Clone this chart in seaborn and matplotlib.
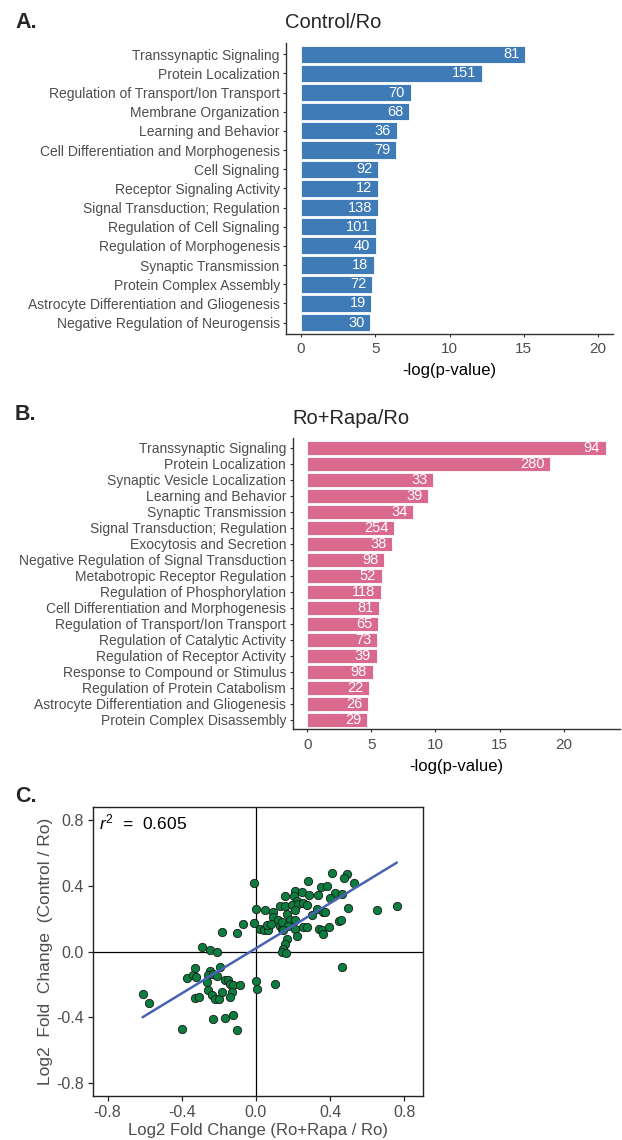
import numpy as np
import pandas as pd
import matplotlib
matplotlib.use("Agg")
import matplotlib.pyplot as plt
import seaborn as sns

# ---------------- data ----------------
termsA = ["Transsynaptic Signaling", "Protein Localization",
          "Regulation of Transport/Ion Transport", "Membrane Organization",
          "Learning and Behavior", "Cell Differentiation and Morphogenesis",
          "Cell Signaling", "Receptor Signaling Activity",
          "Signal Transduction; Regulation", "Regulation of Cell Signaling",
          "Regulation of Morphogenesis", "Synaptic Transmission",
          "Protein Complex Assembly", "Astrocyte Differentiation and Gliogenesis",
          "Negative Regulation of Neurogensis"]
valsA = [15.1, 12.2, 7.38, 7.25, 6.45, 6.4, 5.21, 5.2, 5.17, 5.08, 5.05, 4.92, 4.79, 4.74, 4.66]
countsA = [81, 151, 70, 68, 36, 79, 92, 12, 138, 101, 40, 18, 72, 19, 30]

termsB = ["Transsynaptic Signaling", "Protein Localization",
          "Synaptic Vesicle Localization", "Learning and Behavior",
          "Synaptic Transmission", "Signal Transduction; Regulation",
          "Exocytosis and Secretion", "Negative Regulation of Signal Transduction",
          "Metabotropic Receptor Regulation", "Regulation of Phosphorylation",
          "Cell Differentiation and Morphogenesis", "Regulation of Transport/Ion Transport",
          "Regulation of Catalytic Activity", "Regulation of Receptor Activity",
          "Response to Compound or Stimulus", "Regulation of Protein Catabolism",
          "Astrocyte Differentiation and Gliogenesis", "Protein Complex Disassembly"]
valsB = [23.28, 18.97, 9.81, 9.44, 8.24, 6.79, 6.6, 6.02, 5.8, 5.71, 5.58, 5.55,
         5.43, 5.4, 5.09, 4.81, 4.72, 4.66]
countsB = [94, 280, 33, 39, 34, 254, 38, 98, 52, 118, 81, 65, 73, 39, 98, 22, 26, 29]

# scatter: x = Log2FC (Ro+Rapa/Ro), y = Log2FC (Control/Ro)
sc_x = [-0.011, -0.002, -0.011, 0.049, 0.093, 0.090, 0.120, 0.022, 0.043, 0.067,
        0.061, 0.079, 0.129, 0.139, 0.408, 0.489, 0.476, 0.529, 0.282, 0.349,
        0.385, 0.156, 0.210, 0.246, 0.205, 0.219, 0.286, 0.333, 0.426, 0.399,
        0.466, 0.129, 0.156, 0.193, 0.228, 0.255, 0.273, 0.210, 0.165, 0.327,
        0.360, 0.372, 0.498, 0.651, 0.759, 0.300, 0.183, 0.210, 0.139, 0.174,
        0.147, 0.210, 0.252, 0.273, 0.341, 0.354, 0.360, 0.395, 0.449, 0.458,
        0.219, 0.165, 0.156, 0.147, 0.139, 0.160, 0.461, 0.101, -0.002, 0.006,
        -0.293, -0.248, -0.212, -0.183, -0.104, -0.068, -0.611, -0.575, -0.401, -0.374,
        -0.342, -0.329, -0.324, -0.248, -0.257, -0.263, -0.234, -0.209, -0.194, -0.257,
        -0.239, -0.221, -0.198, -0.182, -0.167, -0.149, -0.140, -0.122, -0.131, -0.140,
        -0.086, -0.234, -0.167, -0.126, -0.104, -0.329, -0.306]
sc_y = [0.416, 0.257, 0.176, 0.251, 0.242, 0.209, 0.189, 0.138, 0.128, 0.132,
        0.162, 0.168, 0.158, 0.138, 0.479, 0.473, 0.449, 0.416, 0.428, 0.391,
        0.396, 0.335, 0.367, 0.361, 0.341, 0.310, 0.347, 0.347, 0.355, 0.324,
        0.351, 0.280, 0.276, 0.286, 0.290, 0.294, 0.286, 0.250, 0.229, 0.260,
        0.239, 0.239, 0.264, 0.254, 0.280, 0.223, 0.189, 0.193, 0.178, 0.158,
        0.128, 0.138, 0.152, 0.152, 0.138, 0.128, 0.104, 0.148, 0.184, 0.189,
        0.097, 0.077, 0.047, 0.016, -0.005, -0.012, -0.095, -0.196, -0.182, -0.229,
        0.030, 0.012, -0.004, 0.118, 0.114, 0.168, -0.258, -0.313, -0.475, -0.160,
        -0.146, -0.099, -0.156, -0.116, -0.146, -0.183, -0.136, -0.150, -0.095, -0.237,
        -0.264, -0.288, -0.288, -0.248, -0.172, -0.172, -0.197, -0.203, -0.248, -0.278,
        -0.207, -0.410, -0.404, -0.385, -0.481, -0.284, -0.278]
r2_text = "0.605"

xticksA = [0, 5, 10, 15, 20]
xticksB = [0, 5, 10, 15, 20]
sc_ticks = [-0.8, -0.4, 0.0, 0.4, 0.8]

# ---------------- style ----------------
sns.set_theme(style="white")
plt.rcParams["font.family"] = ["Liberation Sans", "DejaVu Sans"]
plt.rcParams["mathtext.fontset"] = "custom"
plt.rcParams["mathtext.it"] = "Liberation Sans:italic"
plt.rcParams["mathtext.rm"] = "Liberation Sans"

W, H = 622, 1140
fig = plt.figure(figsize=(W / 100, H / 100), dpi=100)

def px_axes(l, t, r, b):
    return fig.add_axes([l / W, 1 - b / H, (r - l) / W, (b - t) / H])

GREY_TXT = "#4d4d4d"
SPINE = "#333333"
BLUE = "#3e7bb7"
PINK = "#d96a8e"


def bar_panel(ax, terms, vals, counts, color, xlim, xticks):
    df = pd.DataFrame({"term": terms, "val": vals})
    sns.barplot(data=df, x="val", y="term", order=terms, color=color,
                width=0.9, edgecolor="white", linewidth=0.6,
                saturation=1, ax=ax)
    for i, (v, c) in enumerate(zip(vals, counts)):
        ax.annotate(str(c), xy=(v, i), xytext=(-4, 0), textcoords="offset points",
                    ha="right", va="center", color="white", fontsize=10.5)
    n = len(terms)
    ax.set_ylim(n - 1 + 0.6, -0.6)
    ax.set_xlim(*xlim)
    ax.set_xticks(xticks)
    ax.set_ylabel("")
    ax.set_xlabel("-log(p-value)", fontsize=12, color="black", labelpad=5)
    for s in ["top", "right"]:
        ax.spines[s].set_visible(False)
    for s in ["left", "bottom"]:
        ax.spines[s].set_color(SPINE)
        ax.spines[s].set_linewidth(1.0)
    ax.tick_params(axis="y", length=2.5, width=0.8, color=SPINE, labelcolor=GREY_TXT,
                   labelsize=10, pad=2, left=True)
    ax.tick_params(axis="x", length=2.5, width=0.8, color=SPINE, labelcolor=GREY_TXT,
                   labelsize=11, pad=3.5, bottom=True)


# Panel A
axA = px_axes(286, 42.7, 613, 334)
bar_panel(axA, termsA, valsA, countsA, BLUE, (-1, 21), xticksA)
fig.text(333 / W, 1 - 23 / H, "Control/Ro", ha="center", va="center", fontsize=14.5)
fig.text(15 / W, 1 - 22 / H, "A.", ha="left", va="center", fontsize=15.5, fontweight="bold")

# Panel B
axB = px_axes(292.5, 438.3, 620, 729.3)
bar_panel(axB, termsB, valsB, countsB, PINK, (-1.16, 24.4), xticksB)
fig.text(351 / W, 1 - 418 / H, "Ro+Rapa/Ro", ha="center", va="center", fontsize=14.5)
fig.text(15 / W, 1 - 415 / H, "B.", ha="left", va="center", fontsize=15.5, fontweight="bold")

# Panel C
axC = px_axes(92.7, 807, 423, 1096)
dfc = pd.DataFrame({"x": sc_x, "y": sc_y})
axC.axhline(0, color="black", lw=0.9, zorder=1)
axC.axvline(0, color="black", lw=0.9, zorder=1)
sns.scatterplot(data=dfc, x="x", y="y", s=36, color="#0b7d3e", edgecolor="#1a1a1a",
                linewidth=0.6, ax=axC, zorder=3)
sns.regplot(data=dfc, x="x", y="y", scatter=False, ci=None, ax=axC,
            line_kws=dict(color="#4863b4", lw=1.8, zorder=4))
axC.set_xlim(-0.88, 0.90)
axC.set_ylim(-0.88, 0.88)
axC.set_xticks(sc_ticks)
axC.set_yticks(sc_ticks)
axC.set_xticklabels([f"{t:.1f}" for t in sc_ticks])
axC.set_yticklabels([f"{t:.1f}" for t in sc_ticks])
for s in axC.spines.values():
    s.set_visible(True)
    s.set_color("#222222")
    s.set_linewidth(1.0)
axC.tick_params(axis="both", length=3.5, width=0.9, color="#222222", labelcolor=GREY_TXT,
                labelsize=11.5, pad=3, bottom=True, left=True)
axC.set_xlabel("Log2 Fold Change (Ro+Rapa / Ro)", fontsize=12, color=GREY_TXT, labelpad=2)
axC.set_ylabel("Log2  Fold  Change  (Control / Ro)", fontsize=12.5, color=GREY_TXT, labelpad=2)
axC.text(0.02, 0.945, r"$r^2$  =  " + r2_text, transform=axC.transAxes,
         ha="left", va="center", fontsize=12.5, color="black")
fig.text(15 / W, 1 - 797 / H, "C.", ha="left", va="center", fontsize=15.5, fontweight="bold")

fig.savefig("out.png", dpi=100)
